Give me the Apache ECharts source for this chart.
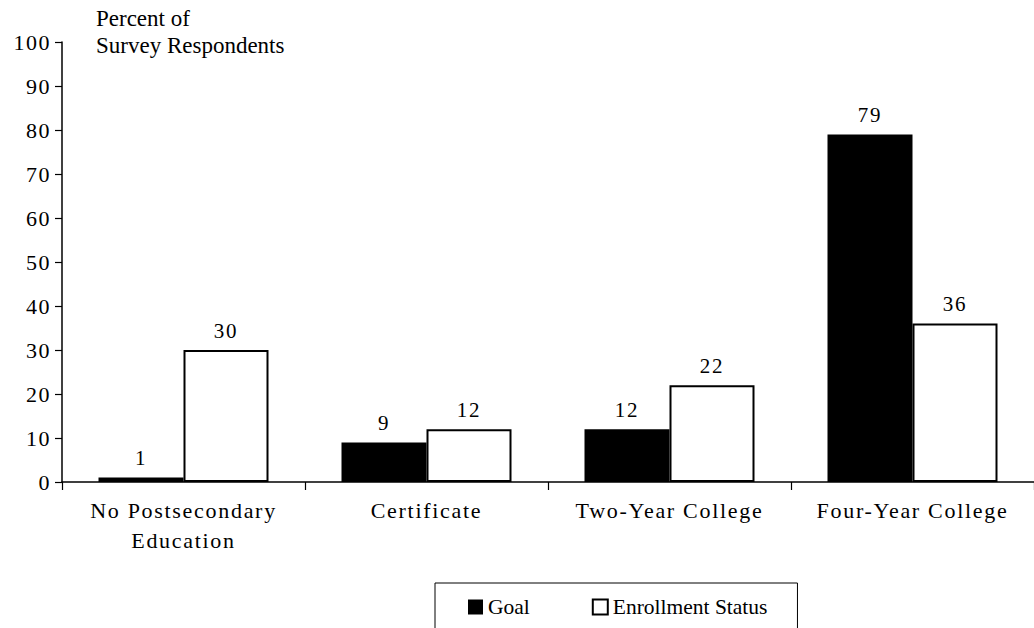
<!DOCTYPE html>
<html lang="en">
<head>
    <meta charset="UTF-8">
    <style>
    * {
        margin: 0;
        padding: 0;
        box-sizing: border-box;
    }
    body {
        background-color: #ffffff;
    }
    #chart {
        width: 1034px;
        height: 628px;
    }
    /* axis and bar labels are printed slightly spaced out */
    #chart text[text-anchor="middle"] {
        letter-spacing: 1.7px;
    }
    #chart text[text-anchor="end"] {
        letter-spacing: 1.5px;
    }
    </style>
    <script src="https://cdn.jsdelivr.net/npm/echarts@6.0.0/dist/echarts.min.js"></script>
</head>
<body>
    <div id="chart"></div>
    <script>
        const categories = ['No Postsecondary\nEducation', 'Certificate', 'Two-Year College', 'Four-Year College'];
        const goalValues = [1, 9, 12, 79];
        const enrollValues = [30, 12, 22, 36];
        const seriesNames = ['Goal', 'Enrollment Status'];

        const serif = 'Liberation Serif';

        const doc = document.querySelector('#chart');
        const n = echarts.init(doc, null, { renderer: 'svg' });

        const valueLabel = {
            show: true,
            position: 'top',
            distance: 9,
            color: '#000',
            fontFamily: serif,
            fontSize: 21
        };

        const mod = {
            animation: false,
            backgroundColor: '#fff',
            title: {
                text: 'Percent of\nSurvey Respondents',
                left: 91,
                top: 0,
                textStyle: {
                    fontFamily: serif,
                    fontSize: 23,
                    fontWeight: 'normal',
                    color: '#000',
                    lineHeight: 27
                }
            },
            legend: {
                data: seriesNames,
                left: 435,
                top: 583,
                orient: 'horizontal',
                icon: 'rect',
                borderColor: '#000',
                borderWidth: 1,
                borderRadius: 0,
                padding: [13, 30, 30, 33],
                itemWidth: 15,
                itemHeight: 15,
                itemGap: 62,
                textStyle: {
                    fontFamily: serif,
                    fontSize: 21.5,
                    color: '#000'
                }
            },
            grid: {
                left: 62,
                top: 42,
                width: 980,
                height: 440
            },
            xAxis: {
                type: 'category',
                data: categories,
                axisLine: { lineStyle: { color: '#000', width: 1.5 } },
                axisTick: { show: true, length: 8, lineStyle: { color: '#000', width: 1.2 } },
                axisLabel: {
                    color: '#000',
                    fontFamily: serif,
                    fontSize: 22,
                    lineHeight: 30,
                    margin: 13
                }
            },
            yAxis: {
                type: 'value',
                min: 0,
                max: 100,
                interval: 10,
                splitLine: { show: false },
                axisLine: { show: true, lineStyle: { color: '#000', width: 1.5 } },
                axisTick: { show: true, length: 7, lineStyle: { color: '#000', width: 1.2 } },
                axisLabel: {
                    color: '#000',
                    fontFamily: serif,
                    fontSize: 22,
                    margin: 11
                }
            },
            series: [
                {
                    name: seriesNames[0],
                    type: 'bar',
                    data: goalValues,
                    barWidth: 85,
                    barGap: '0%',
                    itemStyle: { color: '#000' },
                    label: valueLabel
                },
                {
                    name: seriesNames[1],
                    type: 'bar',
                    data: enrollValues,
                    barWidth: 85,
                    barGap: '0%',
                    itemStyle: { color: '#fff', borderColor: '#000', borderWidth: 2 },
                    label: valueLabel
                }
            ]
        };

        n.setOption(mod);
    </script>
</body>
</html>
